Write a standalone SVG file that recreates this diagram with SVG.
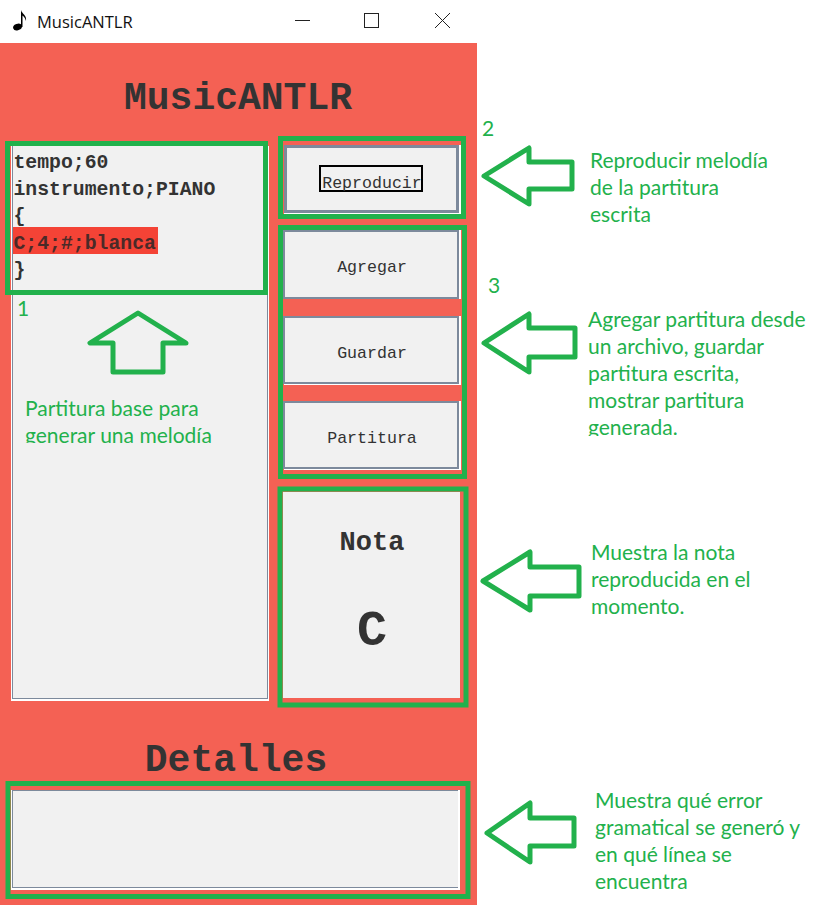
<svg xmlns="http://www.w3.org/2000/svg" width="821" height="905" viewBox="0 0 821 905">
<style>
.panel{fill:#f1f1f1}
.btn{fill:#f1f1f1;stroke:#7d8a9c;stroke-width:2}
.btn3{fill:#f1f1f1;stroke:#7d8a9c;stroke-width:3}
.edge{fill:#fff}
.frame{fill:none;stroke:#22b14c;stroke-width:5}
.arrow{fill:none;stroke:#22b14c;stroke-width:5;stroke-linejoin:round}
.note{font-family:"Lato","Carlito","Noto Sans",sans-serif;font-size:21px;fill:#22b14c}
.mono{font-family:"Liberation Mono",monospace;fill:#333}
.big{font-size:38px;font-weight:bold}
.code{font-size:19.800px;font-weight:bold}
.bt{font-size:16.600px;text-anchor:middle}
</style>
<defs>
<clipPath id="clipA"><rect x="20" y="395" width="220" height="48"/></clipPath>
<clipPath id="clipB"><rect x="585" y="310" width="230" height="126"/></clipPath>
</defs>
<rect width="821" height="905" fill="#fff"/>
<g id="titlebar">
<ellipse cx="17.500" cy="27" rx="4.500" ry="3.300" fill="#000" transform="rotate(-20 17.500 27)"/>
<path d="M21 27V10C22 14 27 15 26 21C25 17 23 16 22.500 15.500V27Z" fill="#000"/>
<text x="37" y="28" font-family="'Open Sans',sans-serif" font-size="16.500" fill="#111">MusicANTLR</text>
<path d="M295 20.500H310" stroke="#222" stroke-width="1" fill="none"/>
<rect x="364.500" y="13.500" width="14" height="14" fill="none" stroke="#222" stroke-width="1"/>
<path d="M435 13L450 28M450 13L435 28" stroke="#222" stroke-width="1" fill="none"/>
</g>
<rect id="window" x="0" y="43" width="477" height="862" fill="#f46154"/>
<text id="app-title" class="mono big" x="238" y="109" text-anchor="middle">MusicANTLR</text>
<g id="editor">
<rect class="edge" x="11" y="146" width="258" height="555"/>
<rect x="12" y="146" width="256" height="553" fill="#7d8a9c"/>
<rect class="panel" x="13" y="146" width="254" height="552"/>
<rect x="13" y="227" width="145" height="27" fill="#f44336"/>
<text class="mono code" x="13.500" y="168">tempo;60</text>
<text class="mono code" x="13.500" y="195">instrumento;PIANO</text>
<text class="mono code" x="13.500" y="222">{</text>
<text class="mono code" x="13.500" y="249" style="fill:#4a2a28">C;4;#;blanca</text>
<text class="mono code" x="13.500" y="276">}</text>
<rect class="frame" x="7.500" y="143.500" width="258" height="149"/>
<text class="note" x="17" y="316">1</text>
<text class="note" x="25" y="416">Partitura base para</text>
<text class="note" x="25" y="443" clip-path="url(#clipA)">generar una melodía</text>
</g>
<g id="play">
<rect class="edge" x="284" y="145" width="177" height="69"/>
<rect class="btn3" x="285.500" y="146.500" width="172" height="65"/>
<rect x="320" y="166" width="102" height="25" fill="none" stroke="#000" stroke-width="2"/>
<text class="mono bt" x="372" y="188">Reproducir</text>
<rect class="frame" x="280.500" y="138.500" width="183" height="78"/>
<text class="note" x="482" y="136">2</text>
</g>
<g id="actions">
<rect class="edge" x="284" y="230" width="177" height="69"/>
<rect class="btn" x="284" y="231" width="174" height="67"/>
<text class="mono bt" x="372" y="272">Agregar</text>
<rect class="edge" x="284" y="316" width="177" height="69"/>
<rect class="btn" x="284" y="317" width="174" height="66"/>
<text class="mono bt" x="372" y="358">Guardar</text>
<rect class="edge" x="284" y="401" width="177" height="69"/>
<rect class="btn" x="284" y="402" width="174" height="66"/>
<text class="mono bt" x="372" y="443">Partitura</text>
<rect class="frame" x="280.500" y="227.500" width="184" height="249"/>
<text class="note" x="488" y="293">3</text>
</g>
<g id="note-panel">
<rect class="panel" x="283" y="492" width="177" height="206"/>
<text class="mono" x="372" y="550" font-size="27" font-weight="bold" text-anchor="middle">Nota</text>
<text class="mono" x="372" y="645" font-size="50" font-weight="bold" text-anchor="middle">C</text>
<rect class="frame" x="280" y="489" width="186" height="216"/>
</g>
<g id="details">
<text class="mono big" x="236" y="771" text-anchor="middle">Detalles</text>
<rect class="edge" x="11" y="790" width="449" height="100"/>
<rect x="12" y="790" width="446" height="98" fill="#7d8a9c"/>
<rect class="panel" x="13" y="791" width="445" height="96"/>
<rect class="frame" x="8" y="783.500" width="460" height="113"/>
</g>
<g id="connectors">
<path class="arrow" d="M138 313L90 343H113V372H163V343H186Z"/>
<path class="arrow" d="M484 176L529 148V162H572V189H529V204Z"/>
<path class="arrow" d="M484 343L529 314V328H575V357H529V372Z"/>
<path class="arrow" d="M483 581L530 552V567H579V596H530V610Z"/>
<path class="arrow" d="M487 833L530 803V818H574V846H530V862Z"/>
</g>
<g id="annotations">
<text class="note" x="590" y="168">Reproducir melodía</text>
<text class="note" x="590" y="195">de la partitura</text>
<text class="note" x="590" y="222">escrita</text>
<text class="note" x="588" y="327">Agregar partitura desde</text>
<text class="note" x="588" y="354">un archivo, guardar</text>
<text class="note" x="588" y="381">partitura escrita,</text>
<text class="note" x="588" y="408">mostrar partitura</text>
<text class="note" x="588" y="435" clip-path="url(#clipB)">generada.</text>
<text class="note" x="591" y="560">Muestra la nota</text>
<text class="note" x="591" y="587">reproducida en el</text>
<text class="note" x="591" y="614">momento.</text>
<text class="note" x="595" y="808">Muestra qué error</text>
<text class="note" x="595" y="835">gramatical se generó y</text>
<text class="note" x="595" y="862">en qué línea se</text>
<text class="note" x="595" y="889">encuentra</text>
</g>
</svg>
